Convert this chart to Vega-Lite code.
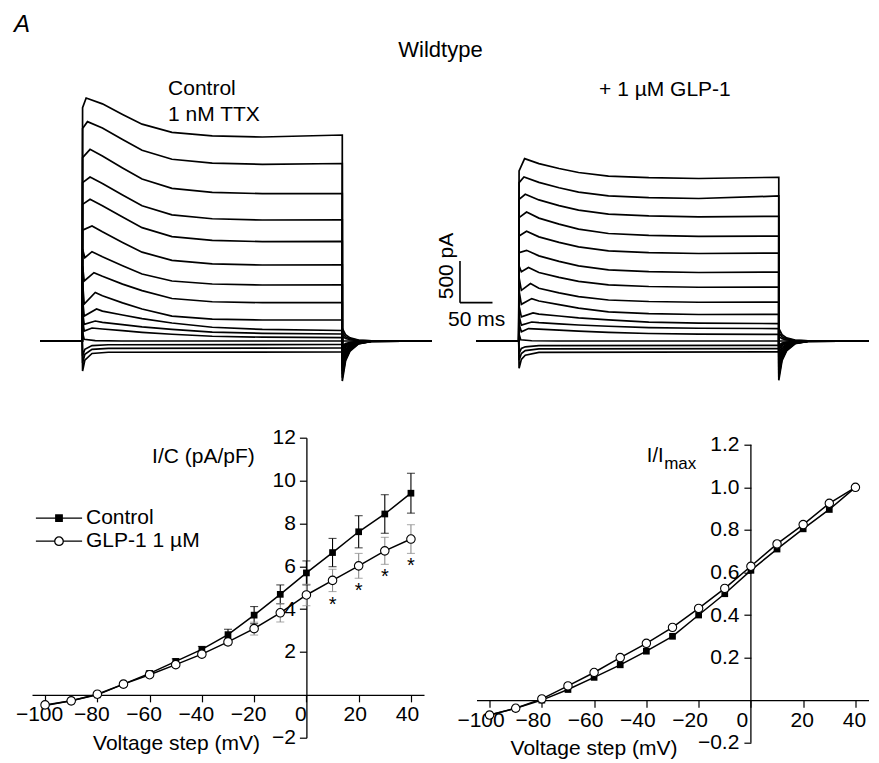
{
"$schema":"https://vega.github.io/schema/vega-lite/v6.json",
"background":"white",
"padding":{"left":14,"top":12,"right":5,"bottom":5},
"config":{"font":"Liberation Sans","view":{"stroke":null},
 "axis":{"grid":false,"domainColor":"black","domainWidth":1.3,"tickColor":"black","tickWidth":1.2,"tickSize":7,"labelFont":"Liberation Sans","labelFontSize":21,"labelColor":"black","labelFlush":false,"labelOverlap":false,"labelBound":false,"titleFont":"Liberation Sans","titleFontSize":21,"titleFontWeight":"normal","titleColor":"black"},
 "text":{"font":"Liberation Sans","color":"black"}},
"columns":2,
"bounds":"flush",
"align":"each",
"spacing":{"row":46.7,"column":44.5},
"resolve":{"scale":{"shape":"independent","fill":"independent"},"legend":{"shape":"independent","fill":"independent"}},
"datasets":{
"tr":[
{"p":"L","n":1,"k":0,"t":-65,"i":0},{"p":"L","n":1,"k":1,"t":0,"i":0},{"p":"L","n":1,"k":2,"t":0.5,"i":2800},{"p":"L","n":1,"k":3,"t":6,"i":2916},{"p":"L","n":1,"k":4,"t":31,"i":2846},{"p":"L","n":1,"k":5,"t":62,"i":2719},{"p":"L","n":1,"k":6,"t":92,"i":2602},{"p":"L","n":1,"k":7,"t":138,"i":2504},{"p":"L","n":1,"k":8,"t":200,"i":2462},{"p":"L","n":1,"k":9,"t":277,"i":2448},{"p":"L","n":1,"k":10,"t":400,"i":2472},{"p":"L","n":1,"k":11,"t":400,"i":-480},{"p":"L","n":1,"k":12,"t":405,"i":-240},{"p":"L","n":1,"k":13,"t":412,"i":-120},{"p":"L","n":1,"k":14,"t":425,"i":-34},{"p":"L","n":1,"k":15,"t":445,"i":-5},{"p":"L","n":1,"k":16,"t":538,"i":0},
{"p":"L","n":2,"k":0,"t":-65,"i":0},{"p":"L","n":2,"k":1,"t":0,"i":0},{"p":"L","n":2,"k":2,"t":0.5,"i":2550},{"p":"L","n":2,"k":3,"t":8,"i":2632},{"p":"L","n":2,"k":4,"t":31,"i":2555},{"p":"L","n":2,"k":5,"t":62,"i":2417},{"p":"L","n":2,"k":6,"t":92,"i":2289},{"p":"L","n":2,"k":7,"t":138,"i":2181},{"p":"L","n":2,"k":8,"t":200,"i":2135},{"p":"L","n":2,"k":9,"t":277,"i":2120},{"p":"L","n":2,"k":10,"t":400,"i":2130},{"p":"L","n":2,"k":11,"t":400,"i":-440},{"p":"L","n":2,"k":12,"t":405,"i":-220},{"p":"L","n":2,"k":13,"t":412,"i":-110},{"p":"L","n":2,"k":14,"t":425,"i":-31},{"p":"L","n":2,"k":15,"t":445,"i":-4},{"p":"L","n":2,"k":16,"t":538,"i":0},
{"p":"L","n":3,"k":0,"t":-65,"i":0},{"p":"L","n":3,"k":1,"t":0,"i":0},{"p":"L","n":3,"k":2,"t":0.5,"i":2200},{"p":"L","n":3,"k":3,"t":12,"i":2300},{"p":"L","n":3,"k":4,"t":31,"i":2220},{"p":"L","n":3,"k":5,"t":62,"i":2077},{"p":"L","n":3,"k":6,"t":92,"i":1944},{"p":"L","n":3,"k":7,"t":138,"i":1832},{"p":"L","n":3,"k":8,"t":200,"i":1784},{"p":"L","n":3,"k":9,"t":277,"i":1768},{"p":"L","n":3,"k":10,"t":400,"i":1770},{"p":"L","n":3,"k":11,"t":400,"i":-400},{"p":"L","n":3,"k":12,"t":405,"i":-200},{"p":"L","n":3,"k":13,"t":412,"i":-100},{"p":"L","n":3,"k":14,"t":425,"i":-28},{"p":"L","n":3,"k":15,"t":445,"i":-4},{"p":"L","n":3,"k":16,"t":538,"i":0},
{"p":"L","n":4,"k":0,"t":-65,"i":0},{"p":"L","n":4,"k":1,"t":0,"i":0},{"p":"L","n":4,"k":2,"t":0.5,"i":1900},{"p":"L","n":4,"k":3,"t":12,"i":1968},{"p":"L","n":4,"k":4,"t":31,"i":1891},{"p":"L","n":4,"k":5,"t":62,"i":1751},{"p":"L","n":4,"k":6,"t":92,"i":1622},{"p":"L","n":4,"k":7,"t":138,"i":1514},{"p":"L","n":4,"k":8,"t":200,"i":1467},{"p":"L","n":4,"k":9,"t":277,"i":1452},{"p":"L","n":4,"k":10,"t":400,"i":1455},{"p":"L","n":4,"k":11,"t":400,"i":-360},{"p":"L","n":4,"k":12,"t":405,"i":-180},{"p":"L","n":4,"k":13,"t":412,"i":-90},{"p":"L","n":4,"k":14,"t":425,"i":-25},{"p":"L","n":4,"k":15,"t":445,"i":-4},{"p":"L","n":4,"k":16,"t":538,"i":0},
{"p":"L","n":5,"k":0,"t":-65,"i":0},{"p":"L","n":5,"k":1,"t":0,"i":0},{"p":"L","n":5,"k":2,"t":0.5,"i":1640},{"p":"L","n":5,"k":3,"t":12,"i":1700},{"p":"L","n":5,"k":4,"t":31,"i":1624},{"p":"L","n":5,"k":5,"t":62,"i":1487},{"p":"L","n":5,"k":6,"t":92,"i":1360},{"p":"L","n":5,"k":7,"t":138,"i":1253},{"p":"L","n":5,"k":8,"t":200,"i":1207},{"p":"L","n":5,"k":9,"t":277,"i":1192},{"p":"L","n":5,"k":10,"t":400,"i":1195},{"p":"L","n":5,"k":11,"t":400,"i":-320},{"p":"L","n":5,"k":12,"t":405,"i":-160},{"p":"L","n":5,"k":13,"t":412,"i":-80},{"p":"L","n":5,"k":14,"t":425,"i":-22},{"p":"L","n":5,"k":15,"t":445,"i":-3},{"p":"L","n":5,"k":16,"t":538,"i":0},
{"p":"L","n":6,"k":0,"t":-65,"i":0},{"p":"L","n":6,"k":1,"t":0,"i":0},{"p":"L","n":6,"k":2,"t":0.5,"i":1330},{"p":"L","n":6,"k":3,"t":15,"i":1380},{"p":"L","n":6,"k":4,"t":31,"i":1310},{"p":"L","n":6,"k":5,"t":62,"i":1183},{"p":"L","n":6,"k":6,"t":92,"i":1066},{"p":"L","n":6,"k":7,"t":138,"i":968},{"p":"L","n":6,"k":8,"t":200,"i":926},{"p":"L","n":6,"k":9,"t":277,"i":912},{"p":"L","n":6,"k":10,"t":400,"i":915},{"p":"L","n":6,"k":11,"t":400,"i":-280},{"p":"L","n":6,"k":12,"t":405,"i":-140},{"p":"L","n":6,"k":13,"t":412,"i":-70},{"p":"L","n":6,"k":14,"t":425,"i":-20},{"p":"L","n":6,"k":15,"t":445,"i":-3},{"p":"L","n":6,"k":16,"t":538,"i":0},
{"p":"L","n":7,"k":0,"t":-65,"i":0},{"p":"L","n":7,"k":1,"t":0,"i":0},{"p":"L","n":7,"k":2,"t":0.5,"i":1100},{"p":"L","n":7,"k":3,"t":4,"i":1000},{"p":"L","n":7,"k":4,"t":15,"i":1072},{"p":"L","n":7,"k":5,"t":31,"i":1012},{"p":"L","n":7,"k":6,"t":62,"i":904},{"p":"L","n":7,"k":7,"t":92,"i":804},{"p":"L","n":7,"k":8,"t":138,"i":720},{"p":"L","n":7,"k":9,"t":200,"i":684},{"p":"L","n":7,"k":10,"t":277,"i":672},{"p":"L","n":7,"k":11,"t":400,"i":675},{"p":"L","n":7,"k":12,"t":400,"i":-240},{"p":"L","n":7,"k":13,"t":405,"i":-120},{"p":"L","n":7,"k":14,"t":412,"i":-60},{"p":"L","n":7,"k":15,"t":425,"i":-17},{"p":"L","n":7,"k":16,"t":445,"i":-2},{"p":"L","n":7,"k":17,"t":538,"i":0},
{"p":"L","n":8,"k":0,"t":-65,"i":0},{"p":"L","n":8,"k":1,"t":0,"i":0},{"p":"L","n":8,"k":2,"t":0.5,"i":900},{"p":"L","n":8,"k":3,"t":3,"i":720},{"p":"L","n":8,"k":4,"t":18,"i":820},{"p":"L","n":8,"k":5,"t":31,"i":777},{"p":"L","n":8,"k":6,"t":62,"i":683},{"p":"L","n":8,"k":7,"t":92,"i":604},{"p":"L","n":8,"k":8,"t":138,"i":510},{"p":"L","n":8,"k":9,"t":200,"i":471},{"p":"L","n":8,"k":10,"t":277,"i":460},{"p":"L","n":8,"k":11,"t":400,"i":462},{"p":"L","n":8,"k":12,"t":400,"i":-200},{"p":"L","n":8,"k":13,"t":405,"i":-100},{"p":"L","n":8,"k":14,"t":412,"i":-50},{"p":"L","n":8,"k":15,"t":425,"i":-14},{"p":"L","n":8,"k":16,"t":445,"i":-2},{"p":"L","n":8,"k":17,"t":538,"i":0},
{"p":"L","n":9,"k":0,"t":-65,"i":0},{"p":"L","n":9,"k":1,"t":0,"i":0},{"p":"L","n":9,"k":2,"t":0.5,"i":700},{"p":"L","n":9,"k":3,"t":3,"i":444},{"p":"L","n":9,"k":4,"t":20,"i":582},{"p":"L","n":9,"k":5,"t":31,"i":542},{"p":"L","n":9,"k":6,"t":62,"i":457},{"p":"L","n":9,"k":7,"t":92,"i":384},{"p":"L","n":9,"k":8,"t":138,"i":298},{"p":"L","n":9,"k":9,"t":200,"i":262},{"p":"L","n":9,"k":10,"t":277,"i":252},{"p":"L","n":9,"k":11,"t":400,"i":252},{"p":"L","n":9,"k":12,"t":400,"i":-160},{"p":"L","n":9,"k":13,"t":405,"i":-80},{"p":"L","n":9,"k":14,"t":412,"i":-40},{"p":"L","n":9,"k":15,"t":425,"i":-11},{"p":"L","n":9,"k":16,"t":445,"i":-2},{"p":"L","n":9,"k":17,"t":538,"i":0},
{"p":"L","n":10,"k":0,"t":-65,"i":0},{"p":"L","n":10,"k":1,"t":0,"i":0},{"p":"L","n":10,"k":2,"t":0.5,"i":500},{"p":"L","n":10,"k":3,"t":3,"i":300},{"p":"L","n":10,"k":4,"t":22,"i":384},{"p":"L","n":10,"k":5,"t":31,"i":358},{"p":"L","n":10,"k":6,"t":62,"i":312},{"p":"L","n":10,"k":7,"t":92,"i":268},{"p":"L","n":10,"k":8,"t":138,"i":216},{"p":"L","n":10,"k":9,"t":200,"i":165},{"p":"L","n":10,"k":10,"t":277,"i":139},{"p":"L","n":10,"k":11,"t":400,"i":126},{"p":"L","n":10,"k":12,"t":400,"i":-120},{"p":"L","n":10,"k":13,"t":405,"i":-60},{"p":"L","n":10,"k":14,"t":412,"i":-30},{"p":"L","n":10,"k":15,"t":425,"i":-8},{"p":"L","n":10,"k":16,"t":445,"i":-1},{"p":"L","n":10,"k":17,"t":538,"i":0},
{"p":"L","n":11,"k":0,"t":-65,"i":0},{"p":"L","n":11,"k":1,"t":0,"i":0},{"p":"L","n":11,"k":2,"t":0.5,"i":350},{"p":"L","n":11,"k":3,"t":3,"i":200},{"p":"L","n":11,"k":4,"t":20,"i":240},{"p":"L","n":11,"k":5,"t":31,"i":224},{"p":"L","n":11,"k":6,"t":62,"i":196},{"p":"L","n":11,"k":7,"t":92,"i":170},{"p":"L","n":11,"k":8,"t":138,"i":139},{"p":"L","n":11,"k":9,"t":200,"i":107},{"p":"L","n":11,"k":10,"t":277,"i":92},{"p":"L","n":11,"k":11,"t":400,"i":84},{"p":"L","n":11,"k":12,"t":400,"i":-90},{"p":"L","n":11,"k":13,"t":405,"i":-45},{"p":"L","n":11,"k":14,"t":412,"i":-22},{"p":"L","n":11,"k":15,"t":425,"i":-6},{"p":"L","n":11,"k":16,"t":445,"i":-1},{"p":"L","n":11,"k":17,"t":538,"i":0},
{"p":"L","n":12,"k":0,"t":-65,"i":0},{"p":"L","n":12,"k":1,"t":0,"i":0},{"p":"L","n":12,"k":2,"t":0.5,"i":250},{"p":"L","n":12,"k":3,"t":3,"i":120},{"p":"L","n":12,"k":4,"t":15,"i":156},{"p":"L","n":12,"k":5,"t":31,"i":144},{"p":"L","n":12,"k":6,"t":62,"i":124},{"p":"L","n":12,"k":7,"t":92,"i":104},{"p":"L","n":12,"k":8,"t":138,"i":81},{"p":"L","n":12,"k":9,"t":200,"i":57},{"p":"L","n":12,"k":10,"t":277,"i":46},{"p":"L","n":12,"k":11,"t":400,"i":40},{"p":"L","n":12,"k":12,"t":400,"i":-60},{"p":"L","n":12,"k":13,"t":405,"i":-30},{"p":"L","n":12,"k":14,"t":412,"i":-15},{"p":"L","n":12,"k":15,"t":425,"i":-4},{"p":"L","n":12,"k":16,"t":445,"i":0},{"p":"L","n":12,"k":17,"t":538,"i":0},
{"p":"L","n":13,"k":0,"t":-65,"i":0},{"p":"L","n":13,"k":1,"t":0,"i":0},{"p":"L","n":13,"k":2,"t":0.5,"i":100},{"p":"L","n":13,"k":3,"t":3,"i":20},{"p":"L","n":13,"k":4,"t":20,"i":5},{"p":"L","n":13,"k":5,"t":60,"i":0},{"p":"L","n":13,"k":6,"t":538,"i":0},
{"p":"L","n":14,"k":0,"t":-65,"i":0},{"p":"L","n":14,"k":1,"t":0,"i":0},{"p":"L","n":14,"k":2,"t":0.5,"i":-180},{"p":"L","n":14,"k":3,"t":4,"i":-100},{"p":"L","n":14,"k":4,"t":15,"i":-55},{"p":"L","n":14,"k":5,"t":40,"i":-45},{"p":"L","n":14,"k":6,"t":400,"i":-42},{"p":"L","n":14,"k":7,"t":400,"i":60},{"p":"L","n":14,"k":8,"t":405,"i":30},{"p":"L","n":14,"k":9,"t":412,"i":15},{"p":"L","n":14,"k":10,"t":425,"i":4},{"p":"L","n":14,"k":11,"t":445,"i":0},{"p":"L","n":14,"k":12,"t":538,"i":0},
{"p":"L","n":15,"k":0,"t":-65,"i":0},{"p":"L","n":15,"k":1,"t":0,"i":0},{"p":"L","n":15,"k":2,"t":0.5,"i":-264},{"p":"L","n":15,"k":3,"t":4,"i":-160},{"p":"L","n":15,"k":4,"t":15,"i":-100},{"p":"L","n":15,"k":5,"t":40,"i":-88},{"p":"L","n":15,"k":6,"t":400,"i":-84},{"p":"L","n":15,"k":7,"t":400,"i":100},{"p":"L","n":15,"k":8,"t":405,"i":50},{"p":"L","n":15,"k":9,"t":412,"i":25},{"p":"L","n":15,"k":10,"t":425,"i":7},{"p":"L","n":15,"k":11,"t":445,"i":1},{"p":"L","n":15,"k":12,"t":538,"i":0},
{"p":"L","n":16,"k":0,"t":-65,"i":0},{"p":"L","n":16,"k":1,"t":0,"i":0},{"p":"L","n":16,"k":2,"t":0.5,"i":-360},{"p":"L","n":16,"k":3,"t":4,"i":-230},{"p":"L","n":16,"k":4,"t":15,"i":-150},{"p":"L","n":16,"k":5,"t":40,"i":-135},{"p":"L","n":16,"k":6,"t":400,"i":-132},{"p":"L","n":16,"k":7,"t":400,"i":150},{"p":"L","n":16,"k":8,"t":405,"i":75},{"p":"L","n":16,"k":9,"t":412,"i":37},{"p":"L","n":16,"k":10,"t":425,"i":10},{"p":"L","n":16,"k":11,"t":445,"i":1},{"p":"L","n":16,"k":12,"t":538,"i":0},
{"p":"R","n":1,"k":0,"t":-65,"i":0},{"p":"R","n":1,"k":1,"t":0,"i":0},{"p":"R","n":1,"k":2,"t":0.5,"i":2040},{"p":"R","n":1,"k":3,"t":9,"i":2189},{"p":"R","n":1,"k":4,"t":31,"i":2129},{"p":"R","n":1,"k":5,"t":62,"i":2070},{"p":"R","n":1,"k":6,"t":92,"i":2022},{"p":"R","n":1,"k":7,"t":138,"i":1979},{"p":"R","n":1,"k":8,"t":200,"i":1960},{"p":"R","n":1,"k":9,"t":277,"i":1950},{"p":"R","n":1,"k":10,"t":400,"i":1965},{"p":"R","n":1,"k":11,"t":400,"i":-472},{"p":"R","n":1,"k":12,"t":405,"i":-236},{"p":"R","n":1,"k":13,"t":412,"i":-118},{"p":"R","n":1,"k":14,"t":425,"i":-33},{"p":"R","n":1,"k":15,"t":445,"i":-5},{"p":"R","n":1,"k":16,"t":538,"i":0},
{"p":"R","n":2,"k":0,"t":-65,"i":0},{"p":"R","n":2,"k":1,"t":0,"i":0},{"p":"R","n":2,"k":2,"t":0.5,"i":1900},{"p":"R","n":2,"k":3,"t":8,"i":1968},{"p":"R","n":2,"k":4,"t":31,"i":1904},{"p":"R","n":2,"k":5,"t":62,"i":1839},{"p":"R","n":2,"k":6,"t":92,"i":1787},{"p":"R","n":2,"k":7,"t":138,"i":1741},{"p":"R","n":2,"k":8,"t":200,"i":1720},{"p":"R","n":2,"k":9,"t":277,"i":1710},{"p":"R","n":2,"k":10,"t":400,"i":1740},{"p":"R","n":2,"k":11,"t":400,"i":-430},{"p":"R","n":2,"k":12,"t":405,"i":-215},{"p":"R","n":2,"k":13,"t":412,"i":-108},{"p":"R","n":2,"k":14,"t":425,"i":-30},{"p":"R","n":2,"k":15,"t":445,"i":-4},{"p":"R","n":2,"k":16,"t":538,"i":0},
{"p":"R","n":3,"k":0,"t":-65,"i":0},{"p":"R","n":3,"k":1,"t":0,"i":0},{"p":"R","n":3,"k":2,"t":0.5,"i":1700},{"p":"R","n":3,"k":3,"t":10,"i":1760},{"p":"R","n":3,"k":4,"t":31,"i":1693},{"p":"R","n":3,"k":5,"t":62,"i":1625},{"p":"R","n":3,"k":6,"t":92,"i":1571},{"p":"R","n":3,"k":7,"t":138,"i":1522},{"p":"R","n":3,"k":8,"t":200,"i":1501},{"p":"R","n":3,"k":9,"t":277,"i":1490},{"p":"R","n":3,"k":10,"t":400,"i":1496},{"p":"R","n":3,"k":11,"t":400,"i":-390},{"p":"R","n":3,"k":12,"t":405,"i":-195},{"p":"R","n":3,"k":13,"t":412,"i":-98},{"p":"R","n":3,"k":14,"t":425,"i":-27},{"p":"R","n":3,"k":15,"t":445,"i":-4},{"p":"R","n":3,"k":16,"t":538,"i":0},
{"p":"R","n":4,"k":0,"t":-65,"i":0},{"p":"R","n":4,"k":1,"t":0,"i":0},{"p":"R","n":4,"k":2,"t":0.5,"i":1480},{"p":"R","n":4,"k":3,"t":12,"i":1548},{"p":"R","n":4,"k":4,"t":31,"i":1475},{"p":"R","n":4,"k":5,"t":62,"i":1402},{"p":"R","n":4,"k":6,"t":92,"i":1343},{"p":"R","n":4,"k":7,"t":138,"i":1290},{"p":"R","n":4,"k":8,"t":200,"i":1267},{"p":"R","n":4,"k":9,"t":277,"i":1255},{"p":"R","n":4,"k":10,"t":400,"i":1260},{"p":"R","n":4,"k":11,"t":400,"i":-350},{"p":"R","n":4,"k":12,"t":405,"i":-175},{"p":"R","n":4,"k":13,"t":412,"i":-88},{"p":"R","n":4,"k":14,"t":425,"i":-25},{"p":"R","n":4,"k":15,"t":445,"i":-3},{"p":"R","n":4,"k":16,"t":538,"i":0},
{"p":"R","n":5,"k":0,"t":-65,"i":0},{"p":"R","n":5,"k":1,"t":0,"i":0},{"p":"R","n":5,"k":2,"t":0.5,"i":1260},{"p":"R","n":5,"k":3,"t":12,"i":1316},{"p":"R","n":5,"k":4,"t":31,"i":1250},{"p":"R","n":5,"k":5,"t":62,"i":1183},{"p":"R","n":5,"k":6,"t":92,"i":1130},{"p":"R","n":5,"k":7,"t":138,"i":1082},{"p":"R","n":5,"k":8,"t":200,"i":1061},{"p":"R","n":5,"k":9,"t":277,"i":1050},{"p":"R","n":5,"k":10,"t":400,"i":1056},{"p":"R","n":5,"k":11,"t":400,"i":-310},{"p":"R","n":5,"k":12,"t":405,"i":-155},{"p":"R","n":5,"k":13,"t":412,"i":-78},{"p":"R","n":5,"k":14,"t":425,"i":-22},{"p":"R","n":5,"k":15,"t":445,"i":-3},{"p":"R","n":5,"k":16,"t":538,"i":0},
{"p":"R","n":6,"k":0,"t":-65,"i":0},{"p":"R","n":6,"k":1,"t":0,"i":0},{"p":"R","n":6,"k":2,"t":0.5,"i":1060},{"p":"R","n":6,"k":3,"t":12,"i":1088},{"p":"R","n":6,"k":4,"t":31,"i":1022},{"p":"R","n":6,"k":5,"t":62,"i":955},{"p":"R","n":6,"k":6,"t":92,"i":902},{"p":"R","n":6,"k":7,"t":138,"i":854},{"p":"R","n":6,"k":8,"t":200,"i":833},{"p":"R","n":6,"k":9,"t":277,"i":822},{"p":"R","n":6,"k":10,"t":400,"i":828},{"p":"R","n":6,"k":11,"t":400,"i":-270},{"p":"R","n":6,"k":12,"t":405,"i":-135},{"p":"R","n":6,"k":13,"t":412,"i":-68},{"p":"R","n":6,"k":14,"t":425,"i":-19},{"p":"R","n":6,"k":15,"t":445,"i":-3},{"p":"R","n":6,"k":16,"t":538,"i":0},
{"p":"R","n":7,"k":0,"t":-65,"i":0},{"p":"R","n":7,"k":1,"t":0,"i":0},{"p":"R","n":7,"k":2,"t":0.5,"i":900},{"p":"R","n":7,"k":3,"t":4,"i":830},{"p":"R","n":7,"k":4,"t":15,"i":881},{"p":"R","n":7,"k":5,"t":31,"i":822},{"p":"R","n":7,"k":6,"t":62,"i":763},{"p":"R","n":7,"k":7,"t":92,"i":716},{"p":"R","n":7,"k":8,"t":138,"i":673},{"p":"R","n":7,"k":9,"t":200,"i":654},{"p":"R","n":7,"k":10,"t":277,"i":645},{"p":"R","n":7,"k":11,"t":400,"i":648},{"p":"R","n":7,"k":12,"t":400,"i":-230},{"p":"R","n":7,"k":13,"t":405,"i":-115},{"p":"R","n":7,"k":14,"t":412,"i":-58},{"p":"R","n":7,"k":15,"t":425,"i":-16},{"p":"R","n":7,"k":16,"t":445,"i":-2},{"p":"R","n":7,"k":17,"t":538,"i":0},
{"p":"R","n":8,"k":0,"t":-65,"i":0},{"p":"R","n":8,"k":1,"t":0,"i":0},{"p":"R","n":8,"k":2,"t":0.5,"i":760},{"p":"R","n":8,"k":3,"t":4,"i":608},{"p":"R","n":8,"k":4,"t":18,"i":689},{"p":"R","n":8,"k":5,"t":31,"i":633},{"p":"R","n":8,"k":6,"t":62,"i":577},{"p":"R","n":8,"k":7,"t":92,"i":532},{"p":"R","n":8,"k":8,"t":138,"i":492},{"p":"R","n":8,"k":9,"t":200,"i":474},{"p":"R","n":8,"k":10,"t":277,"i":465},{"p":"R","n":8,"k":11,"t":400,"i":468},{"p":"R","n":8,"k":12,"t":400,"i":-190},{"p":"R","n":8,"k":13,"t":405,"i":-95},{"p":"R","n":8,"k":14,"t":412,"i":-48},{"p":"R","n":8,"k":15,"t":425,"i":-13},{"p":"R","n":8,"k":16,"t":445,"i":-2},{"p":"R","n":8,"k":17,"t":538,"i":0},
{"p":"R","n":9,"k":0,"t":-65,"i":0},{"p":"R","n":9,"k":1,"t":0,"i":0},{"p":"R","n":9,"k":2,"t":0.5,"i":600},{"p":"R","n":9,"k":3,"t":4,"i":440},{"p":"R","n":9,"k":4,"t":20,"i":509},{"p":"R","n":9,"k":5,"t":31,"i":480},{"p":"R","n":9,"k":6,"t":62,"i":436},{"p":"R","n":9,"k":7,"t":92,"i":394},{"p":"R","n":9,"k":8,"t":138,"i":350},{"p":"R","n":9,"k":9,"t":200,"i":328},{"p":"R","n":9,"k":10,"t":277,"i":318},{"p":"R","n":9,"k":11,"t":400,"i":320},{"p":"R","n":9,"k":12,"t":400,"i":-150},{"p":"R","n":9,"k":13,"t":405,"i":-75},{"p":"R","n":9,"k":14,"t":412,"i":-38},{"p":"R","n":9,"k":15,"t":425,"i":-10},{"p":"R","n":9,"k":16,"t":445,"i":-1},{"p":"R","n":9,"k":17,"t":538,"i":0},
{"p":"R","n":10,"k":0,"t":-65,"i":0},{"p":"R","n":10,"k":1,"t":0,"i":0},{"p":"R","n":10,"k":2,"t":0.5,"i":420},{"p":"R","n":10,"k":3,"t":4,"i":290},{"p":"R","n":10,"k":4,"t":22,"i":336},{"p":"R","n":10,"k":5,"t":31,"i":323},{"p":"R","n":10,"k":6,"t":62,"i":300},{"p":"R","n":10,"k":7,"t":92,"i":278},{"p":"R","n":10,"k":8,"t":138,"i":253},{"p":"R","n":10,"k":9,"t":200,"i":227},{"p":"R","n":10,"k":10,"t":277,"i":214},{"p":"R","n":10,"k":11,"t":400,"i":209},{"p":"R","n":10,"k":12,"t":400,"i":-110},{"p":"R","n":10,"k":13,"t":405,"i":-55},{"p":"R","n":10,"k":14,"t":412,"i":-28},{"p":"R","n":10,"k":15,"t":425,"i":-8},{"p":"R","n":10,"k":16,"t":445,"i":-1},{"p":"R","n":10,"k":17,"t":538,"i":0},
{"p":"R","n":11,"k":0,"t":-65,"i":0},{"p":"R","n":11,"k":1,"t":0,"i":0},{"p":"R","n":11,"k":2,"t":0.5,"i":300},{"p":"R","n":11,"k":3,"t":4,"i":190},{"p":"R","n":11,"k":4,"t":20,"i":228},{"p":"R","n":11,"k":5,"t":31,"i":220},{"p":"R","n":11,"k":6,"t":62,"i":206},{"p":"R","n":11,"k":7,"t":92,"i":192},{"p":"R","n":11,"k":8,"t":138,"i":177},{"p":"R","n":11,"k":9,"t":200,"i":161},{"p":"R","n":11,"k":10,"t":277,"i":153},{"p":"R","n":11,"k":11,"t":400,"i":149},{"p":"R","n":11,"k":12,"t":400,"i":-80},{"p":"R","n":11,"k":13,"t":405,"i":-40},{"p":"R","n":11,"k":14,"t":412,"i":-20},{"p":"R","n":11,"k":15,"t":425,"i":-6},{"p":"R","n":11,"k":16,"t":445,"i":-1},{"p":"R","n":11,"k":17,"t":538,"i":0},
{"p":"R","n":12,"k":0,"t":-65,"i":0},{"p":"R","n":12,"k":1,"t":0,"i":0},{"p":"R","n":12,"k":2,"t":0.5,"i":200},{"p":"R","n":12,"k":3,"t":4,"i":110},{"p":"R","n":12,"k":4,"t":15,"i":149},{"p":"R","n":12,"k":5,"t":31,"i":142},{"p":"R","n":12,"k":6,"t":62,"i":130},{"p":"R","n":12,"k":7,"t":92,"i":118},{"p":"R","n":12,"k":8,"t":138,"i":104},{"p":"R","n":12,"k":9,"t":200,"i":90},{"p":"R","n":12,"k":10,"t":277,"i":83},{"p":"R","n":12,"k":11,"t":400,"i":80},{"p":"R","n":12,"k":12,"t":400,"i":-50},{"p":"R","n":12,"k":13,"t":405,"i":-25},{"p":"R","n":12,"k":14,"t":412,"i":-12},{"p":"R","n":12,"k":15,"t":425,"i":-4},{"p":"R","n":12,"k":16,"t":445,"i":0},{"p":"R","n":12,"k":17,"t":538,"i":0},
{"p":"R","n":13,"k":0,"t":-65,"i":0},{"p":"R","n":13,"k":1,"t":0,"i":0},{"p":"R","n":13,"k":2,"t":0.5,"i":80},{"p":"R","n":13,"k":3,"t":3,"i":15},{"p":"R","n":13,"k":4,"t":20,"i":3},{"p":"R","n":13,"k":5,"t":60,"i":0},{"p":"R","n":13,"k":6,"t":538,"i":0},
{"p":"R","n":14,"k":0,"t":-65,"i":0},{"p":"R","n":14,"k":1,"t":0,"i":0},{"p":"R","n":14,"k":2,"t":0.5,"i":-150},{"p":"R","n":14,"k":3,"t":4,"i":-90},{"p":"R","n":14,"k":4,"t":10,"i":-70},{"p":"R","n":14,"k":5,"t":31,"i":-56},{"p":"R","n":14,"k":6,"t":400,"i":-52},{"p":"R","n":14,"k":7,"t":400,"i":55},{"p":"R","n":14,"k":8,"t":405,"i":28},{"p":"R","n":14,"k":9,"t":412,"i":14},{"p":"R","n":14,"k":10,"t":425,"i":4},{"p":"R","n":14,"k":11,"t":445,"i":0},{"p":"R","n":14,"k":12,"t":538,"i":0},
{"p":"R","n":15,"k":0,"t":-65,"i":0},{"p":"R","n":15,"k":1,"t":0,"i":0},{"p":"R","n":15,"k":2,"t":0.5,"i":-230},{"p":"R","n":15,"k":3,"t":4,"i":-150},{"p":"R","n":15,"k":4,"t":10,"i":-115},{"p":"R","n":15,"k":5,"t":31,"i":-95},{"p":"R","n":15,"k":6,"t":400,"i":-91},{"p":"R","n":15,"k":7,"t":400,"i":100},{"p":"R","n":15,"k":8,"t":405,"i":50},{"p":"R","n":15,"k":9,"t":412,"i":25},{"p":"R","n":15,"k":10,"t":425,"i":7},{"p":"R","n":15,"k":11,"t":445,"i":1},{"p":"R","n":15,"k":12,"t":538,"i":0},
{"p":"R","n":16,"k":0,"t":-65,"i":0},{"p":"R","n":16,"k":1,"t":0,"i":0},{"p":"R","n":16,"k":2,"t":0.5,"i":-328},{"p":"R","n":16,"k":3,"t":4,"i":-220},{"p":"R","n":16,"k":4,"t":10,"i":-170},{"p":"R","n":16,"k":5,"t":31,"i":-136},{"p":"R","n":16,"k":6,"t":400,"i":-130},{"p":"R","n":16,"k":7,"t":400,"i":150},{"p":"R","n":16,"k":8,"t":405,"i":75},{"p":"R","n":16,"k":9,"t":412,"i":37},{"p":"R","n":16,"k":10,"t":425,"i":10},{"p":"R","n":16,"k":11,"t":445,"i":1},{"p":"R","n":16,"k":12,"t":538,"i":0}
],
"iv":[
{"v":-100,"s":"Control","y":-0.5,"lo":-0.58,"hi":-0.42,"n":-0.07,"sig":""},
{"v":-90,"s":"Control","y":-0.28,"lo":-0.34,"hi":-0.22,"n":-0.038,"sig":""},
{"v":-80,"s":"Control","y":0,"lo":-0.06,"hi":0.06,"n":0,"sig":""},
{"v":-70,"s":"Control","y":0.5,"lo":0.42,"hi":0.58,"n":0.05,"sig":""},
{"v":-60,"s":"Control","y":1.0,"lo":0.9,"hi":1.1,"n":0.107,"sig":""},
{"v":-50,"s":"Control","y":1.56,"lo":1.44,"hi":1.68,"n":0.166,"sig":""},
{"v":-40,"s":"Control","y":2.12,"lo":1.98,"hi":2.26,"n":0.23,"sig":""},
{"v":-30,"s":"Control","y":2.81,"lo":2.56,"hi":3.06,"n":0.3,"sig":""},
{"v":-20,"s":"Control","y":3.72,"lo":3.32,"hi":4.12,"n":0.4,"sig":""},
{"v":-10,"s":"Control","y":4.69,"lo":4.25,"hi":5.13,"n":0.5,"sig":""},
{"v":0,"s":"Control","y":5.69,"lo":5.13,"hi":6.25,"n":0.61,"sig":""},
{"v":10,"s":"Control","y":6.64,"lo":5.98,"hi":7.3,"n":0.71,"sig":""},
{"v":20,"s":"Control","y":7.61,"lo":6.86,"hi":8.36,"n":0.805,"sig":""},
{"v":30,"s":"Control","y":8.44,"lo":7.54,"hi":9.34,"n":0.896,"sig":""},
{"v":40,"s":"Control","y":9.41,"lo":8.48,"hi":10.34,"n":1.0,"sig":""},
{"v":-100,"s":"GLP-1 1 µM","y":-0.47,"lo":-0.55,"hi":-0.39,"n":-0.07,"sig":""},
{"v":-90,"s":"GLP-1 1 µM","y":-0.28,"lo":-0.34,"hi":-0.22,"n":-0.038,"sig":""},
{"v":-80,"s":"GLP-1 1 µM","y":0.03,"lo":-0.03,"hi":0.09,"n":0.006,"sig":""},
{"v":-70,"s":"GLP-1 1 µM","y":0.5,"lo":0.42,"hi":0.58,"n":0.067,"sig":""},
{"v":-60,"s":"GLP-1 1 µM","y":0.94,"lo":0.84,"hi":1.04,"n":0.13,"sig":""},
{"v":-50,"s":"GLP-1 1 µM","y":1.41,"lo":1.31,"hi":1.51,"n":0.2,"sig":""},
{"v":-40,"s":"GLP-1 1 µM","y":1.9,"lo":1.78,"hi":2.02,"n":0.267,"sig":""},
{"v":-30,"s":"GLP-1 1 µM","y":2.47,"lo":2.32,"hi":2.62,"n":0.342,"sig":""},
{"v":-20,"s":"GLP-1 1 µM","y":3.09,"lo":2.79,"hi":3.39,"n":0.431,"sig":""},
{"v":-10,"s":"GLP-1 1 µM","y":3.83,"lo":3.4,"hi":4.26,"n":0.525,"sig":""},
{"v":0,"s":"GLP-1 1 µM","y":4.66,"lo":4.16,"hi":5.16,"n":0.629,"sig":""},
{"v":10,"s":"GLP-1 1 µM","y":5.34,"lo":4.82,"hi":5.86,"n":0.734,"sig":"*"},
{"v":20,"s":"GLP-1 1 µM","y":6.02,"lo":5.44,"hi":6.6,"n":0.825,"sig":"*"},
{"v":30,"s":"GLP-1 1 µM","y":6.72,"lo":6.09,"hi":7.35,"n":0.925,"sig":"*"},
{"v":40,"s":"GLP-1 1 µM","y":7.27,"lo":6.6,"hi":7.94,"n":1.0,"sig":"*"}
]},
"concat":[
{"width":400,"height":300,"data":{"name":"tr"},"transform":[{"filter":"datum.p === 'L'"}],
 "layer":[
  {"mark":{"type":"line","color":"black","strokeWidth":1.7},
   "encoding":{"x":{"field":"t","type":"quantitative","scale":{"domain":[-77.3,538],"nice":false,"zero":false},"axis":null},
    "y":{"field":"i","type":"quantitative","scale":{"domain":[-600,3000],"nice":false,"zero":false},"axis":null},
    "detail":{"field":"n"},"order":{"field":"k","type":"quantitative"}}},
  {"data":{"values":[{}]},"mark":{"type":"text","text":"A","fontSize":24,"fontStyle":"italic","align":"left","baseline":"alphabetic"},
   "encoding":{"x":{"datum":-104.9,"type":"quantitative","axis":null},"y":{"datum":3708,"type":"quantitative","axis":null}}},
  {"data":{"values":[{}]},"mark":{"type":"text","text":["Control","1 nM TTX"],"lineHeight":26,"fontSize":21,"align":"left","baseline":"alphabetic"},
   "encoding":{"x":{"datum":132,"type":"quantitative","axis":null},"y":{"datum":2952,"type":"quantitative","axis":null}}}
 ]},
{"width":392,"height":300,"data":{"name":"tr"},"transform":[{"filter":"datum.p === 'R'"}],
 "layer":[
  {"mark":{"type":"line","color":"black","strokeWidth":1.7},
   "encoding":{"x":{"field":"t","type":"quantitative","scale":{"domain":[-65,538],"nice":false,"zero":false},"axis":null},
    "y":{"field":"i","type":"quantitative","scale":{"domain":[-600,3000],"nice":false,"zero":false},"axis":null},
    "detail":{"field":"n"},"order":{"field":"k","type":"quantitative"}}},
  {"data":{"values":[{}]},"mark":{"type":"rule","color":"black","strokeWidth":1.6},
   "encoding":{"x":{"datum":-90.4,"type":"quantitative","axis":null},"y":{"datum":460,"type":"quantitative","axis":null},"y2":{"datum":960}}},
  {"data":{"values":[{}]},"mark":{"type":"rule","color":"black","strokeWidth":1.6},
   "encoding":{"x":{"datum":-90.4,"type":"quantitative","axis":null},"x2":{"datum":-40.4},"y":{"datum":460,"type":"quantitative","axis":null}}},
  {"data":{"values":[{}]},"mark":{"type":"text","text":"500 pA","fontSize":21,"angle":270,"align":"center","baseline":"alphabetic"},
   "encoding":{"x":{"datum":-101.9,"type":"quantitative","axis":null},"y":{"datum":900,"type":"quantitative","axis":null}}},
  {"data":{"values":[{}]},"mark":{"type":"text","text":"50 ms","fontSize":21,"align":"center","baseline":"alphabetic"},
   "encoding":{"x":{"datum":-64.7,"type":"quantitative","axis":null},"y":{"datum":180,"type":"quantitative","axis":null}}},
  {"data":{"values":[{}]},"mark":{"type":"text","text":"Wildtype","fontSize":22,"align":"center","baseline":"alphabetic"},
   "encoding":{"x":{"datum":-120.4,"type":"quantitative","axis":null},"y":{"datum":3408,"type":"quantitative","axis":null}}},
  {"data":{"values":[{}]},"mark":{"type":"text","text":"+ 1 µM GLP-1","fontSize":21,"align":"left","baseline":"alphabetic"},
   "encoding":{"x":{"datum":123.5,"type":"quantitative","axis":null},"y":{"datum":2940,"type":"quantitative","axis":null}}}
 ]},
{"width":392,"height":300,"data":{"name":"iv"},
 "encoding":{"x":{"field":"v","type":"quantitative","scale":{"domain":[-105,45],"nice":false,"zero":false},
   "axis":{"values":[-100,-80,-60,-40,-20,0,20,40],"format":"d","offset":-42.86,"labelPadding":2,
    "labelOffset":{"condition":{"test":"datum.value <= 0","value":-6},"value":-4},
    "title":"Voltage step (mV)","titleX":144,"titleY":55,"titleAlign":"center","titleBaseline":"alphabetic","titleAngle":0}}},
 "layer":[
  {"mark":{"type":"rule","strokeWidth":1.1},
   "encoding":{"y":{"field":"lo","type":"quantitative"},"y2":{"field":"hi"},
    "color":{"condition":{"test":"datum.s === 'Control'","value":"black"},"value":"#8c8c8c"}}},
  {"mark":{"type":"tick","orient":"horizontal","size":8,"thickness":1.1},
   "encoding":{"y":{"field":"lo","type":"quantitative"},
    "color":{"condition":{"test":"datum.s === 'Control'","value":"black"},"value":"#8c8c8c"}}},
  {"mark":{"type":"tick","orient":"horizontal","size":8,"thickness":1.1},
   "encoding":{"y":{"field":"hi","type":"quantitative"},
    "color":{"condition":{"test":"datum.s === 'Control'","value":"black"},"value":"#8c8c8c"}}},
  {"mark":{"type":"line","color":"black","strokeWidth":1.5},
   "encoding":{"y":{"field":"y","type":"quantitative","scale":{"domain":[-2,12],"nice":false,"zero":false},
     "axis":{"values":[-2,2,4,6,8,10,12],"format":"d","offset":-274.4,"labelPadding":4,
      "title":"I/C (pA/pF)","titleAngle":0,"titleX":-103.5,"titleY":25,"titleAlign":"center","titleBaseline":"alphabetic"}},
    "detail":{"field":"s"}}},
  {"mark":{"type":"point","opacity":0,"size":1,"stroke":"black","strokeWidth":1.3,"strokeOpacity":1},
   "encoding":{"y":{"field":"y","type":"quantitative"},
    "shape":{"field":"s","type":"nominal","scale":{"domain":["Control","GLP-1 1 µM"],"range":["M-3.3,0H3.3M-0.46,-0.46H0.46V0.46H-0.46Z","M-3.3,0H-0.61M0.61,0H3.3M-0.61,0A0.61,0.61,0,1,0,0.61,0A0.61,0.61,0,1,0,-0.61,0Z"]},
     "legend":{"orient":"none","legendX":16.5,"legendY":70,"title":null,"labelFont":"Liberation Sans","labelFontSize":21,"labelColor":"black","labelOffset":16.5,"rowPadding":1,"symbolSize":196,"symbolOpacity":1,"symbolStrokeWidth":1.3}},
    "fill":{"field":"s","type":"nominal","scale":{"domain":["Control","GLP-1 1 µM"],"range":["black","white"]},
     "legend":{"orient":"none","legendX":16.5,"legendY":70,"title":null,"labelFont":"Liberation Sans","labelFontSize":21,"labelColor":"black","labelOffset":16.5,"rowPadding":1,"symbolSize":196,"symbolOpacity":1,"symbolStrokeWidth":1.3}}}},
  {"transform":[{"filter":"datum.s === 'Control'"}],
   "mark":{"type":"point","shape":"square","filled":true,"color":"black","opacity":1,"size":45},
   "encoding":{"y":{"field":"y","type":"quantitative"}}},
  {"transform":[{"filter":"datum.s !== 'Control'"}],
   "mark":{"type":"point","shape":"circle","fill":"white","fillOpacity":1,"stroke":"black","strokeWidth":1.1,"opacity":1,"size":72},
   "encoding":{"y":{"field":"y","type":"quantitative"}}},
  {"transform":[{"filter":"datum.sig === '*'"}],
   "mark":{"type":"text","fontSize":20,"dy":19,"align":"center","baseline":"alphabetic","color":"black"},
   "encoding":{"y":{"field":"lo","type":"quantitative"},"text":{"field":"sig"}}}
 ]},
{"width":392,"height":305,"data":{"name":"iv"},
 "layer":[
  {"mark":{"type":"line","color":"black","strokeWidth":1.5},
   "encoding":{"x":{"field":"v","type":"quantitative","scale":{"domain":[-105,45],"nice":false,"zero":false},
     "axis":{"values":[-100,-80,-60,-40,-20,0,20,40],"format":"d","offset":-42.56,"labelPadding":2,
      "labelOffset":{"condition":{"test":"datum.value <= 0","value":-9},"value":-1.5},
      "title":"Voltage step (mV)","titleX":117,"titleY":54,"titleAlign":"center","titleBaseline":"alphabetic","titleAngle":0}},
    "y":{"field":"n","type":"quantitative","scale":{"domain":[-0.2,1.2333],"nice":false,"zero":false},
     "axis":{"values":[-0.2,0.2,0.4,0.6,0.8,1.0,1.2],"format":".1f","offset":-274.4,"domain":false,"labelPadding":5,
      "title":"I/I","titleFontSize":20,"titleAngle":0,"titleX":-96.2,"titleY":23.3,"titleAlign":"center","titleBaseline":"alphabetic"}},
    "detail":{"field":"s"}}},
  {"data":{"values":[{}]},"mark":{"type":"rule","color":"black","strokeWidth":1.3},
   "encoding":{"x":{"datum":0,"type":"quantitative"},"y":{"datum":-0.2,"type":"quantitative"},"y2":{"datum":1.2}}},
  {"data":{"values":[{}]},"mark":{"type":"text","text":"max","fontSize":17,"align":"left","baseline":"alphabetic","color":"black"},
   "encoding":{"x":{"datum":-33.2,"type":"quantitative"},"y":{"datum":1.085,"type":"quantitative"}}},
  {"transform":[{"filter":"datum.s === 'Control'"}],
   "mark":{"type":"point","shape":"square","filled":true,"color":"black","opacity":1,"size":45},
   "encoding":{"x":{"field":"v","type":"quantitative"},"y":{"field":"n","type":"quantitative"}}},
  {"transform":[{"filter":"datum.s !== 'Control'"}],
   "mark":{"type":"point","shape":"circle","fill":"white","fillOpacity":1,"stroke":"black","strokeWidth":1.1,"opacity":1,"size":70},
   "encoding":{"x":{"field":"v","type":"quantitative"},"y":{"field":"n","type":"quantitative"}}}
 ]}
]
}
